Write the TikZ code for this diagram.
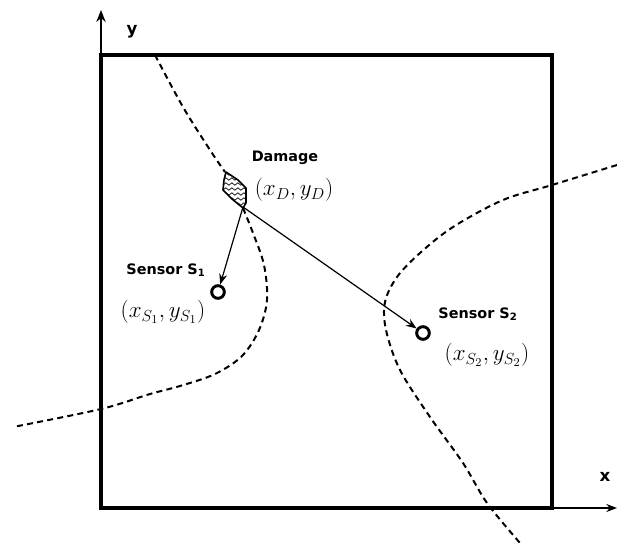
\documentclass[tikz,border=0pt]{standalone}
\usepackage{fontspec}
\newfontfamily\lblfont{DejaVu Sans}
\usetikzlibrary{arrows.meta,decorations.pathmorphing}
\tikzset{
  frame/.style={line width=2.4pt},
  axis/.style={line width=1.1pt},
  hyper/.style={line width=1.5pt, dash pattern=on 4.5pt off 3.2pt},
  ray/.style={line width=0.9pt, -{Stealth[length=8pt,width=6pt]}},
  sensor/.style={circle, draw, line width=2.2pt, minimum size=9.5pt, inner sep=0pt},
  lbl/.style={font=\lblfont\bfseries\fontsize{10.8}{12}\selectfont, inner sep=0pt},
  coord/.style={font=\fontsize{17.5}{20}\selectfont, inner sep=0pt},
  wave/.style={line width=0.5pt, decorate, decoration={snake, amplitude=0.9pt, segment length=4.5pt}}
}
\begin{document}
\begin{tikzpicture}[x=0.75pt,y=-0.75pt]
\useasboundingbox (0,0) rectangle (617,546);
% axes
\draw[axis,-{Stealth[length=9pt,width=7pt]}] (101,508) -- (101,10);
\draw[axis,-{Stealth[length=8pt,width=6pt]}] (101,508) -- (617,508);
\node[lbl, font=\lblfont\bfseries\fontsize{12.5}{14}\selectfont] (ylab) at (132,32) {y};
\node[lbl, font=\lblfont\bfseries\fontsize{12.5}{14}\selectfont] (xlab) at (605,477) {x};
% plate
\draw[frame] (101,55) rectangle (552,508);
% hyperbola branches
\draw[hyper] plot[smooth, tension=0.55] coordinates {(155,55) (183,107) (210,150) (225,172)};
\draw[hyper] plot[smooth, tension=0.55] coordinates {(243,208) (253,233) (264,265) (267,300) (259,330) (242,356) (215,374) (180,386) (150,394) (101,409) (13,427)};
\draw[hyper] plot[smooth, tension=0.55] coordinates {(617,165) (552,185) (503,200) (453,227) (420,253) (397,277) (385,302) (386,330) (400,370) (430,417) (463,463) (487,503) (520,543)};
% damage
\coordinate (dmg) at (243,207);
\begin{scope}
\clip (226,172) -- (238,180) -- (246,188) -- (246,203) -- (243,208) -- (232,199) -- (223,190) -- (224,180) -- cycle;
\foreach \yy in {174,179,184,189,194,199,204}
  \draw[wave] (218,\yy) -- (252,\yy);
\end{scope}
\draw[line width=1.2pt, line join=round] (226,172) -- (238,180) -- (246,188) -- (246,203) -- (243,208) -- (232,199) -- (223,190) -- (224,180) -- cycle;
\node[lbl] (dlab) at (285,158) {Damage};
\node[coord] (dcoord) at (294,190) {$(x_D, y_D)$};
% sensors
\node[sensor] (s1) at (218,292) {};
\node[sensor] (s2) at (423,333) {};
\node[lbl] (s1lab) at (166,270) {Sensor S\textsubscript{1}};
\node[lbl] (s2lab) at (478,314) {Sensor S\textsubscript{2}};
\node[coord] (s1coord) at (163,312) {$(x_{S_1}, y_{S_1})$};
\node[coord] (s2coord) at (487,355) {$(x_{S_2}, y_{S_2})$};
% rays
\draw[ray] (dmg) -- (s1);
\draw[ray] (dmg) -- (s2);
\end{tikzpicture}
\end{document}
